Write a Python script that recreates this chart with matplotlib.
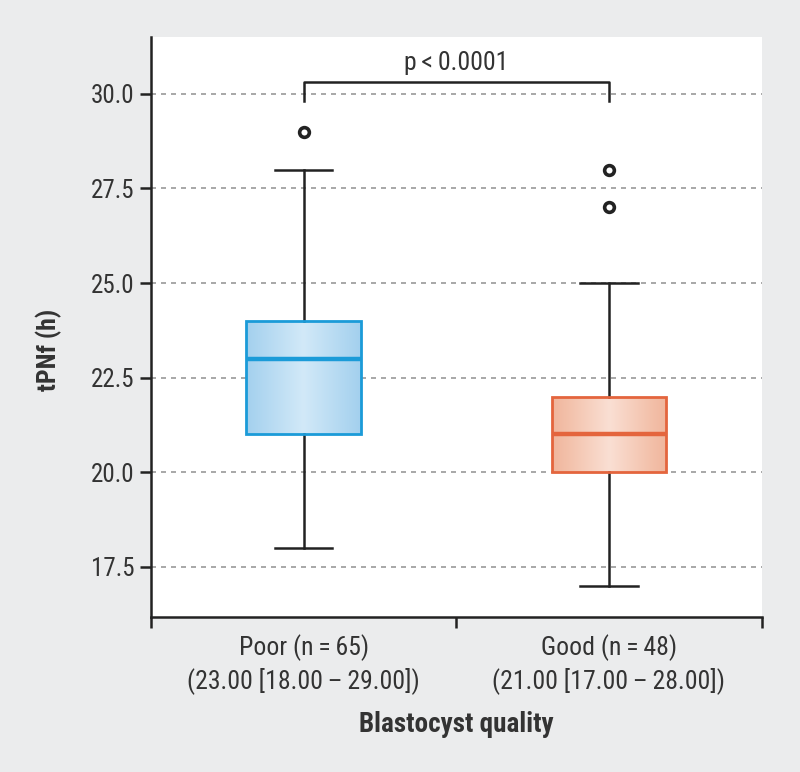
import numpy as np
import matplotlib as mpl
import matplotlib.pyplot as plt
from matplotlib.colors import LinearSegmentedColormap

# box statistics
groups = ["Poor (n\u2009=\u200965)\n(23.00 [18.00\u2009\u2013\u200929.00])",
          "Good (n\u2009=\u200948)\n(21.00 [17.00\u2009\u2013\u200928.00])"]
med = [23.0, 21.0]
q1 = [21.0, 20.0]
q3 = [24.0, 22.0]
whislo = [18.0, 17.0]
whishi = [28.0, 25.0]
fliers = [[29.0], [27.0, 28.0]]
p_text = "p\u2009<\u20090.0001"

edge_cols = ["#1b9bd8", "#e4653d"]
grad_cols = [("#a3d0ee", "#d2e9f8"), ("#f0b59b", "#fadfd3")]

mpl.rcParams["font.family"] = ["Roboto Condensed", "Roboto", "DejaVu Sans"]
mpl.rcParams["font.size"] = 18.5

fig = plt.figure(figsize=(8, 7.72), dpi=100, facecolor="#ebeced")
ax = fig.add_axes([0.189, 0.201, 0.763, 0.751])
ax.set_facecolor("white")

stats = []
for i in range(2):
    stats.append(dict(med=med[i], q1=q1[i], q3=q3[i], whislo=whislo[i],
                      whishi=whishi[i], fliers=fliers[i]))

pos = [0.5, 1.5]
bp = ax.bxp(stats, positions=pos, widths=0.376, patch_artist=True,
            showfliers=True, zorder=3,
            whiskerprops=dict(color="#222222", lw=1.8),
            capprops=dict(color="#222222", lw=1.8),
            flierprops=dict(marker="o", markersize=7, markerfacecolor="white",
                            markeredgecolor="#222222", markeredgewidth=2.6))
for i, b in enumerate(bp["boxes"]):
    b.set_facecolor("none")
    b.set_edgecolor(edge_cols[i])
    b.set_linewidth(2)
    b.set_zorder(4)
    cmap = LinearSegmentedColormap.from_list("g", [grad_cols[i][0], grad_cols[i][1], grad_cols[i][0]])
    grad = np.linspace(0, 1, 256).reshape(1, -1)
    im = ax.imshow(grad, cmap=cmap, aspect="auto", zorder=2,
                   extent=[pos[i] - 0.188, pos[i] + 0.188, q1[i], q3[i]])
    im.set_clip_path(b)
    bp["medians"][i].set_color(edge_cols[i])
    bp["medians"][i].set_linewidth(3.2)
    bp["medians"][i].set_zorder(5)
    bp["caps"][2 * i].set_xdata([pos[i] - 0.094, pos[i] + 0.094])
    bp["caps"][2 * i + 1].set_xdata([pos[i] - 0.094, pos[i] + 0.094])

ax.set_xlim(0, 2)
ax.set_ylim(16.18, 31.5)
ax.set_yticks([17.5, 20.0, 22.5, 25.0, 27.5, 30.0])
ax.set_yticklabels(["17.5", "20.0", "22.5", "25.0", "27.5", "30.0"], color="#333333", fontsize=18)
ax.yaxis.grid(True, ls=(0, (3, 3)), color="#999999", lw=1.2, zorder=0)
ax.set_axisbelow(True)

ax.set_xticks([0, 1, 2])
ax.set_xticklabels([])
ax.tick_params(axis="both", which="major", length=8, width=1.8, color="#222222")
ax.tick_params(axis="y", pad=4)

# category labels under the axis
for x, lab in zip(pos, groups):
    ax.text(x, -0.03, lab, transform=ax.get_xaxis_transform(), ha="center", va="top",
            color="#333333", linespacing=1.3, multialignment="center")

for s in ["top", "right"]:
    ax.spines[s].set_visible(False)
for s in ["left", "bottom"]:
    ax.spines[s].set_linewidth(1.8)
    ax.spines[s].set_color("#222222")

ax.set_ylabel("tPNf (h)", fontweight="bold", color="#333333", fontsize=18.5)
ax.yaxis.set_label_coords(-0.146, 0.46)
ax.set_xlabel("Blastocyst quality", fontweight="bold", color="#333333", fontsize=19.5)
ax.xaxis.set_label_coords(0.5, -0.162)

# significance bracket
ax.plot([pos[0], pos[0], pos[1], pos[1]], [29.82, 30.32, 30.32, 29.82],
        color="#222222", lw=1.8, zorder=5)
ax.text(1.0, 30.5, p_text, ha="center", va="bottom", color="#333333")

fig.savefig("out.png", dpi=100, facecolor=fig.get_facecolor())
